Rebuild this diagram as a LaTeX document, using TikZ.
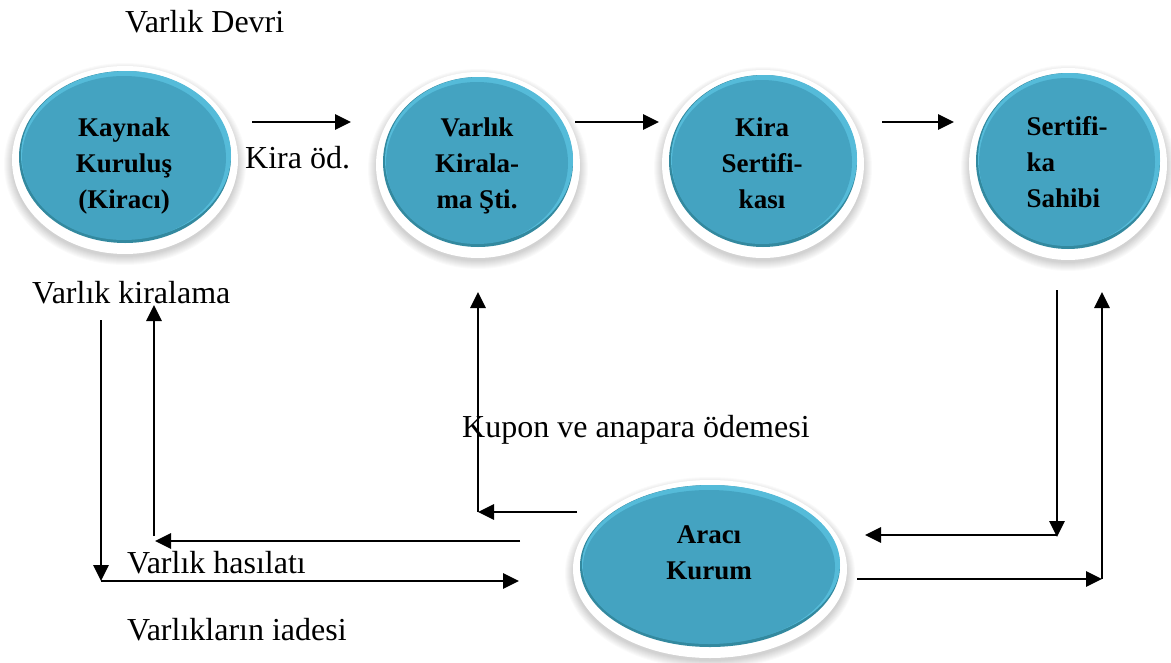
\documentclass[tikz,border=0pt]{standalone}
\usepackage{fontspec}
\setmainfont{Liberation Serif}
\usetikzlibrary{shapes.geometric, arrows.meta}

\definecolor{tealmain}{HTML}{44A3C1}
\definecolor{teallight}{HTML}{55BBD9}
\definecolor{tealdark}{HTML}{33899F}

\tikzset{
  flow/.style={line width=2.8pt, -{Triangle[length=16pt,width=15pt]}},
  caption/.style={font=\fontsize{32}{36}\selectfont, anchor=base west, inner sep=0pt},
  bubble/.style={ellipse, inner sep=0pt, outer sep=0pt, fill=tealmain},
  bubbletext/.style={font=\bfseries\fontsize{27}{36}\selectfont, inner sep=0pt, text=black},
}

% #1 name, #2 cx, #3 cy, #4 rx, #5 ry, #6 text shift, #7 alignment, #8 text
\newcommand\bubbleat[8]{%
  \foreach \k in {1,...,9}{
    \fill[black, opacity=0.018] (#2,#3+7) ellipse ({#4+6+\k} and {#5+6+\k});
  }
  \fill[white] (#2,#3+3) ellipse ({#4+7} and {#5+8});
  \fill[tealdark] (#2,#3) ellipse ({#4} and {#5});
  \fill[teallight] (#2+1,#3-2) ellipse ({#4-1} and {#5-2});
  \node[bubble, minimum width={2*(#4-4)}, minimum height={2*(#5-4)},
        label={[bubbletext, align=#7, yshift=#6pt]center:{#8}}] (#1) at (#2-1,#3+1) {};
}

\begin{document}
\begin{tikzpicture}[x=1pt, y=-1pt]
  \useasboundingbox (0,0) rectangle (1171,662);
  \fill[white] (0,0) rectangle (1171,662);

  % parties
  \bubbleat{kaynak}{125}{157}{106}{86}{-8}{center}{Kaynak\\Kuruluş\\(Kiracı)}
  \bubbleat{varlik}{478}{162}{95}{85}{-3}{center}{Varlık\\Kirala-\\ma Şti.}
  \bubbleat{kira}{763}{161}{94}{86}{-1}{center}{Kira\\Sertifi-\\kası}
  \bubbleat{sahip}{1068}{161}{92}{88}{0}{left}{Sertifi-\\ka\\Sahibi}
  \bubbleat{araci}{710}{566}{130}{81}{14}{center}{Aracı\\Kurum}

  % arrow end points
  \coordinate (t1a) at (252,122);  \coordinate (t1b) at (351,122);
  \coordinate (t2a) at (575,122);  \coordinate (t2b) at (659,122);
  \coordinate (t3a) at (882,122);  \coordinate (t3b) at (954,122);

  \coordinate (l1) at (101,320);   \coordinate (l2) at (101,581);
  \coordinate (l3) at (519,581);
  \coordinate (l4) at (520,541);   \coordinate (l5) at (155,541);
  \coordinate (l6) at (154,536);   \coordinate (l7) at (154,305);

  \coordinate (m1) at (577,512);   \coordinate (m2) at (478,512);
  \coordinate (m3) at (478,292);

  \coordinate (r1) at (1057,290);  \coordinate (r2) at (1057,537);
  \coordinate (r3) at (1057,535);  \coordinate (r4) at (865,535);
  \coordinate (r5) at (857,579);   \coordinate (r6) at (1102,579);
  \coordinate (r7) at (1102,292);

  % top row
  \draw[flow] (t1a) -- (t1b);
  \draw[flow] (t2a) -- (t2b);
  \draw[flow] (t3a) -- (t3b);

  % left loop
  \draw[flow] (l1) -- (l2);
  \draw[flow] (l2) -- (l3);
  \draw[flow] (l4) -- (l5);
  \draw[flow] (l6) -- (l7);

  % middle return
  \draw[flow] (m1) -- (m2);
  \draw[flow] (m2) -- (m3);

  % right loop
  \draw[flow] (r1) -- (r2);
  \draw[flow] (r3) -- (r4);
  \draw[flow] (r5) -- (r6);
  \draw[flow] (r6) -- (r7);

  % captions
  \node[caption] (cdevri) at (125,32) {Varlık Devri};
  \node[caption] (ckira) at (245,168) {Kira öd.};
  \node[caption] (ckiralama) at (32,303) {Varlık kiralama};
  \node[caption] (ckupon) at (462,437) {Kupon ve anapara ödemesi};
  \node[caption] (chasilat) at (127,573) {Varlık hasılatı};
  \node[caption] (ciade) at (127,640) {Varlıkların iadesi};
\end{tikzpicture}
\end{document}
